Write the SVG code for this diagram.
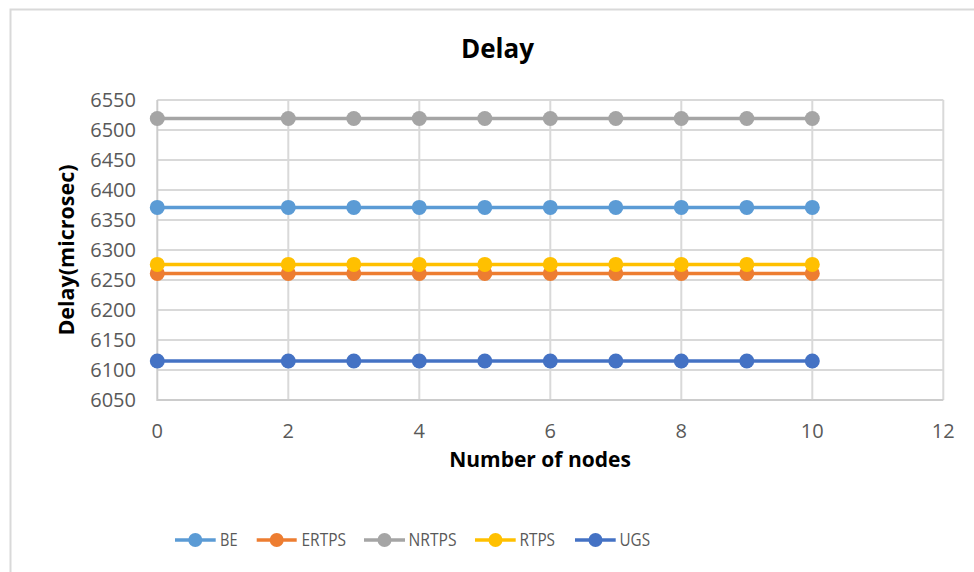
<svg xmlns="http://www.w3.org/2000/svg" width="974" height="572" viewBox="0 0 974 572">
<style>
.grid{stroke:#d9d9d9;stroke-width:2;fill:none}
.axis{stroke:#cccccc;stroke-width:2;fill:none}
.tick{font-family:"Open Sans","Liberation Sans",sans-serif;font-size:20px;fill:#595959}
.ttl{font-family:"Open Sans","Liberation Sans",sans-serif;font-weight:bold;fill:#000}
.leg{font-family:"Open Sans","Liberation Sans",sans-serif;font-size:19px;fill:#595959}
.s{fill:none;stroke-width:3.5;stroke-linejoin:round}
</style>
<defs>
<marker id="mBE" markerUnits="userSpaceOnUse" markerWidth="18" markerHeight="18" refX="9" refY="9"><circle cx="9" cy="9" r="7.5" fill="#5B9BD5"/></marker>
<marker id="mER" markerUnits="userSpaceOnUse" markerWidth="18" markerHeight="18" refX="9" refY="9"><circle cx="9" cy="9" r="7.5" fill="#ED7D31"/></marker>
<marker id="mNR" markerUnits="userSpaceOnUse" markerWidth="18" markerHeight="18" refX="9" refY="9"><circle cx="9" cy="9" r="7.5" fill="#A5A5A5"/></marker>
<marker id="mRT" markerUnits="userSpaceOnUse" markerWidth="18" markerHeight="18" refX="9" refY="9"><circle cx="9" cy="9" r="7.5" fill="#FFC000"/></marker>
<marker id="mUG" markerUnits="userSpaceOnUse" markerWidth="18" markerHeight="18" refX="9" refY="9"><circle cx="9" cy="9" r="7.5" fill="#4472C4"/></marker>
</defs>
<rect width="974" height="572" fill="#ffffff"/>
<path d="M10.5,572 V9.5 H974" fill="none" stroke="#d9d9d9" stroke-width="2"/>
<text class="ttl" x="497.5" y="58" font-size="26" text-anchor="middle">Delay</text>
<g id="grid">
<path class="grid" d="M157.3,100H943.3M157.3,130H943.3M157.3,160H943.3M157.3,190H943.3M157.3,220H943.3M157.3,250H943.3M157.3,280H943.3M157.3,310H943.3M157.3,340H943.3M157.3,370H943.3"/>
<path class="grid" d="M288.3,100V400M419.3,100V400M550.3,100V400M681.3,100V400M812.3,100V400M943.3,100V400"/>
<path class="axis" d="M157.3,100V400H943.3"/>
</g>
<g id="y-ticks" class="tick" text-anchor="end">
<text x="136" y="107">6550</text>
<text x="136" y="137">6500</text>
<text x="136" y="167">6450</text>
<text x="136" y="197">6400</text>
<text x="136" y="227">6350</text>
<text x="136" y="257">6300</text>
<text x="136" y="287">6250</text>
<text x="136" y="317">6200</text>
<text x="136" y="347">6150</text>
<text x="136" y="377">6100</text>
<text x="136" y="407">6050</text>
</g>
<g id="x-ticks" class="tick" text-anchor="middle">
<text x="157.3" y="438">0</text>
<text x="288.3" y="438">2</text>
<text x="419.3" y="438">4</text>
<text x="550.3" y="438">6</text>
<text x="681.3" y="438">8</text>
<text x="812.3" y="438">10</text>
<text x="943.3" y="438">12</text>
</g>
<text class="ttl" x="540" y="467" font-size="21" text-anchor="middle">Number of nodes</text>
<text class="ttl" font-size="21.5" text-anchor="middle" transform="translate(74,250) rotate(-90)">Delay(microsec)</text>
<g id="series">
<polyline id="BE" class="s" stroke="#5B9BD5" marker-start="url(#mBE)" marker-mid="url(#mBE)" marker-end="url(#mBE)" points="157.3,207.4 288.3,207.4 353.8,207.4 419.3,207.4 484.8,207.4 550.3,207.4 615.8,207.4 681.3,207.4 746.8,207.4 812.3,207.4"/>
<polyline id="ERTPS" class="s" stroke="#ED7D31" marker-start="url(#mER)" marker-mid="url(#mER)" marker-end="url(#mER)" points="157.3,273.4 288.3,273.4 353.8,273.4 419.3,273.4 484.8,273.4 550.3,273.4 615.8,273.4 681.3,273.4 746.8,273.4 812.3,273.4"/>
<polyline id="NRTPS" class="s" stroke="#A5A5A5" marker-start="url(#mNR)" marker-mid="url(#mNR)" marker-end="url(#mNR)" points="157.3,118.5 288.3,118.5 353.8,118.5 419.3,118.5 484.8,118.5 550.3,118.5 615.8,118.5 681.3,118.5 746.8,118.5 812.3,118.5"/>
<polyline id="RTPS" class="s" stroke="#FFC000" marker-start="url(#mRT)" marker-mid="url(#mRT)" marker-end="url(#mRT)" points="157.3,264.4 288.3,264.4 353.8,264.4 419.3,264.4 484.8,264.4 550.3,264.4 615.8,264.4 681.3,264.4 746.8,264.4 812.3,264.4"/>
<polyline id="UGS" class="s" stroke="#4472C4" marker-start="url(#mUG)" marker-mid="url(#mUG)" marker-end="url(#mUG)" points="157.3,361 288.3,361 353.8,361 419.3,361 484.8,361 550.3,361 615.8,361 681.3,361 746.8,361 812.3,361"/>
</g>
<g id="legend">
<g id="leg-BE"><path d="M175,540H215.7" stroke="#5B9BD5" stroke-width="3.5"/><circle cx="195.3" cy="540" r="7" fill="#5B9BD5"/><text class="leg" x="220" y="545.5" textLength="17.5" lengthAdjust="spacingAndGlyphs">BE</text></g>
<g id="leg-ERTPS"><path d="M256.7,540H296.7" stroke="#ED7D31" stroke-width="3.5"/><circle cx="276.7" cy="540" r="7" fill="#ED7D31"/><text class="leg" x="301.5" y="545.5" textLength="44.5" lengthAdjust="spacingAndGlyphs">ERTPS</text></g>
<g id="leg-NRTPS"><path d="M364,540H405" stroke="#A5A5A5" stroke-width="3.5"/><circle cx="384.5" cy="540" r="7" fill="#A5A5A5"/><text class="leg" x="408.5" y="545.5" textLength="48" lengthAdjust="spacingAndGlyphs">NRTPS</text></g>
<g id="leg-RTPS"><path d="M475,540H515.7" stroke="#FFC000" stroke-width="3.5"/><circle cx="495.5" cy="540" r="7" fill="#FFC000"/><text class="leg" x="519.5" y="545.5" textLength="35.5" lengthAdjust="spacingAndGlyphs">RTPS</text></g>
<g id="leg-UGS"><path d="M575,540H615.7" stroke="#4472C4" stroke-width="3.5"/><circle cx="595.5" cy="540" r="7" fill="#4472C4"/><text class="leg" x="619.5" y="545.5" textLength="30.5" lengthAdjust="spacingAndGlyphs">UGS</text></g>
</g>
</svg>
